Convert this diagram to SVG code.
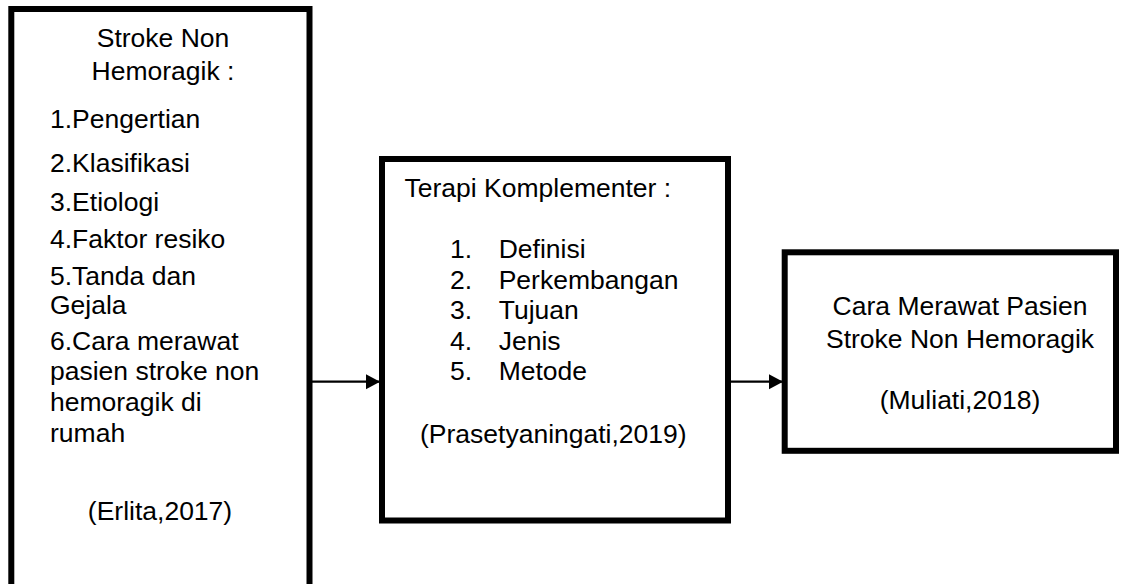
<svg xmlns="http://www.w3.org/2000/svg" width="1125" height="584" viewBox="0 0 1125 584">
<style>
.box{fill:#fff;stroke:#000;stroke-width:6}
.t{font-family:"Liberation Sans",Arial,sans-serif;font-size:26.5px;fill:#000}
.m{text-anchor:middle}
.conn{stroke:#000;stroke-width:2.2;fill:none}
</style>
<defs>
<marker id="ah" markerUnits="userSpaceOnUse" markerWidth="15" markerHeight="16" refX="14" refY="7.5" orient="auto">
<path d="M0,0 L14,7.5 L0,15 Z" fill="#000"/>
</marker>
</defs>
<rect width="1125" height="584" fill="#fff"/>
<g id="node-stroke">
<rect class="box" x="11.3" y="9" width="298.2" height="600"/>
<text class="t m" x="163" y="47">Stroke Non</text>
<text class="t m" x="163" y="80">Hemoragik :</text>
<text class="t" x="50" y="128">1.Pengertian</text>
<text class="t" x="50" y="172">2.Klasifikasi</text>
<text class="t" x="50" y="211">3.Etiologi</text>
<text class="t" x="50" y="248">4.Faktor resiko</text>
<text class="t" x="50" y="285">5.Tanda dan</text>
<text class="t" x="50" y="314">Gejala</text>
<text class="t" x="50" y="350">6.Cara merawat</text>
<text class="t" x="50" y="380">pasien stroke non</text>
<text class="t" x="50" y="411">hemoragik di</text>
<text class="t" x="50" y="442">rumah</text>
<text class="t m" x="160" y="520">(Erlita,2017)</text>
</g>
<g id="node-terapi">
<rect class="box" x="382" y="159" width="346" height="361.5"/>
<text class="t" x="404.5" y="197">Terapi Komplementer :</text>
<text class="t" x="450" y="257.5">1.</text><text class="t" x="498.7" y="257.5">Definisi</text>
<text class="t" x="450" y="288.5">2.</text><text class="t" x="498.7" y="288.5">Perkembangan</text>
<text class="t" x="450" y="319">3.</text><text class="t" x="498.7" y="319">Tujuan</text>
<text class="t" x="450" y="349.5">4.</text><text class="t" x="498.7" y="349.5">Jenis</text>
<text class="t" x="450" y="380">5.</text><text class="t" x="498.7" y="380">Metode</text>
<text class="t" x="420" y="443">(Prasetyaningati,2019)</text>
</g>
<g id="node-cara">
<rect class="box" x="784.7" y="252.3" width="331.3" height="198.5"/>
<text class="t m" x="960" y="315">Cara Merawat Pasien</text>
<text class="t m" x="960" y="347.5">Stroke Non Hemoragik</text>
<text class="t m" x="960" y="408.5">(Muliati,2018)</text>
</g>
<g id="connectors">
<line class="conn" x1="312" y1="381.7" x2="380" y2="381.7" marker-end="url(#ah)"/>
<line class="conn" x1="731" y1="381.7" x2="783" y2="381.7" marker-end="url(#ah)"/>
</g>
</svg>
